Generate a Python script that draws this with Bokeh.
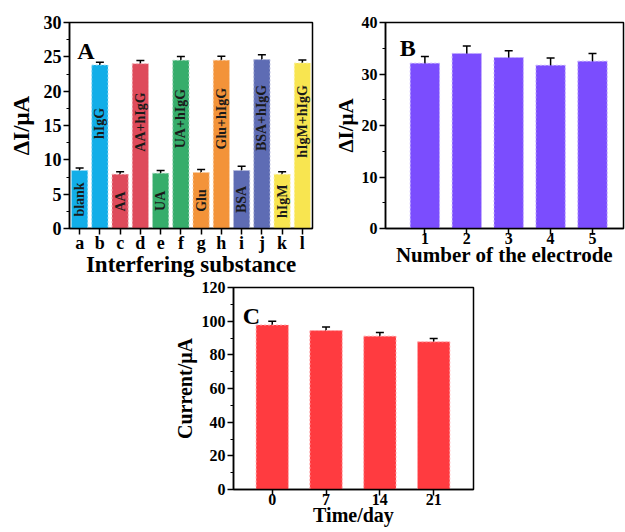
import numpy as np
from bokeh.plotting import figure
from bokeh.models import (ColumnDataSource, Range1d, FixedTicker, SingleIntervalTicker,
                          Whisker, TeeHead, Label, Spacer)
from bokeh.layouts import column, row
from bokeh.embed import file_html
from bokeh.resources import INLINE
from bokeh.core.properties import value

# ---------------- data ----------------
a_categories = ["a", "b", "c", "d", "e", "f", "g", "h", "i", "j", "k", "l"]
a_labels = ["blank", "hIgG", "AA", "AA+hIgG", "UA", "UA+hIgG", "Glu", "Glu+hIgG",
            "BSA", "BSA+hIgG", "hIgM", "hIgM+hIgG"]
a_values = [8.45, 23.8, 7.9, 24.0, 8.05, 24.5, 8.15, 24.5, 8.45, 24.6, 7.9, 24.1]
a_errors = [0.35, 0.4, 0.35, 0.45, 0.4, 0.55, 0.45, 0.6, 0.6, 0.7, 0.35, 0.45]
a_colors = ["#12AEE8", "#12AEE8", "#DE4B5B", "#DE4B5B", "#36AD6B", "#36AD6B",
            "#F39339", "#F39339", "#5E6CB4", "#5E6CB4", "#F8E550", "#F8E550"]

b_categories = ["1", "2", "3", "4", "5"]
b_values = [32.1, 34.0, 33.2, 31.7, 32.5]
b_errors = [1.3, 1.45, 1.3, 1.4, 1.5]
b_color = "#7B4DFE"

c_categories = ["0", "7", "14", "21"]
c_values = [97.7, 94.4, 91.1, 87.7]
c_errors = [2.2, 2.2, 2.1, 2.0]
c_color = "#FF3B40"

FONT = "Liberation Serif"


def lighten(hexcol, f=0.55):
    h = hexcol.lstrip("#")
    r, g, b = (int(h[i:i + 2], 16) for i in (0, 2, 4))
    r, g, b = (int(c + (255 - c) * f) for c in (r, g, b))
    return "#%02x%02x%02x" % (r, g, b)


def style(p, tick_size, label_size, ylabel_standoff):
    p.xgrid.visible = False
    p.ygrid.visible = False
    p.outline_line_color = "black"
    p.outline_line_width = 1.5
    p.background_fill_color = "white"
    p.border_fill_color = "white"
    for ax in (p.xaxis, p.yaxis):
        ax.axis_line_width = 1.5
        ax.axis_line_color = "black"
        ax.major_tick_line_width = 1.5
        ax.major_tick_line_color = "black"
        ax.minor_tick_line_width = 1.2
        ax.minor_tick_line_color = "black"
        ax.major_tick_in = 0
        ax.major_tick_out = 6
        ax.minor_tick_in = 0
        ax.minor_tick_out = 3
        ax.major_label_text_font = FONT
        ax.major_label_text_font_style = "bold"
        ax.major_label_text_font_size = tick_size
        ax.major_label_text_color = "black"
        ax.axis_label_text_font = FONT
        ax.axis_label_text_font_style = "bold"
        ax.axis_label_text_font_size = label_size
        ax.axis_label_text_color = "black"
    p.xaxis.major_label_standoff = -2
    p.xaxis.axis_label_standoff = -4
    p.yaxis.major_label_standoff = 2
    p.yaxis.axis_label_standoff = ylabel_standoff


def add_whisker(p, src):
    w = Whisker(source=src, base="x", upper="upper", lower="lower",
                line_color="black", line_width=1.5,
                upper_head=TeeHead(size=8, line_color="black", line_width=1.5),
                lower_head=TeeHead(size=8, line_color="black", line_width=1.5))
    p.add_layout(w)


# ---------------- panel A ----------------
xa = np.arange(1, len(a_categories) + 1)
va = np.array(a_values)
ea = np.array(a_errors)
src_a = ColumnDataSource(dict(
    x=xa, top=va, upper=va + ea, lower=va - ea, color=a_colors,
    line=[lighten(c) for c in a_colors], label=a_labels,
    ty=np.where(va > 15, va - 8.5, va / 2.0)))

pa = figure(width=330, height=280, output_backend="svg", toolbar_location=None,
            x_range=Range1d(0.5, len(a_categories) + 0.5), y_range=Range1d(0, 30),
            min_border_left=69, min_border_right=18, min_border_top=22, min_border_bottom=52)
pa.vbar(x="x", top="top", width=0.8, bottom=0, fill_color="color",
        line_color="line", line_dash="2 2", line_width=1, source=src_a)
add_whisker(pa, src_a)
pa.text(x="x", y="ty", text="label", angle=np.pi / 2, text_align="center",
        text_baseline="middle", text_font=value(FONT), text_font_style="bold",
        text_font_size="14px", text_color="#1a1a1a", source=src_a)
style(pa, "18px", "23px", 7)
pa.xaxis.ticker = FixedTicker(ticks=list(xa), minor_ticks=[])
pa.xaxis.major_label_overrides = {int(i): c for i, c in zip(xa, a_categories)}
pa.yaxis.ticker = SingleIntervalTicker(interval=5, num_minor_ticks=2)
pa.xaxis.axis_label = "Interfering substance"
pa.yaxis.axis_label = "ΔI/μA"
pa.add_layout(Label(x=0.88, y=27.7, text="A", text_font=FONT, text_font_style="bold",
                    text_font_size="24px", text_baseline="top", text_color="black"))

# ---------------- panel B ----------------
xb = np.arange(1, len(b_categories) + 1)
vb = np.array(b_values)
eb = np.array(b_errors)
src_b = ColumnDataSource(dict(x=xb, top=vb, upper=vb + eb, lower=vb - eb))
pb = figure(width=295, height=280, output_backend="svg", toolbar_location=None,
            x_range=Range1d(0.06, len(b_categories) + 0.74), y_range=Range1d(0, 40),
            min_border_left=46, min_border_right=2, min_border_top=22, min_border_bottom=52)
pb.vbar(x="x", top="top", width=0.7, bottom=0, fill_color=b_color,
        line_color=lighten(b_color), line_dash="2 2", line_width=1, source=src_b)
add_whisker(pb, src_b)
style(pb, "16px", "21px", 1)
pb.xaxis.ticker = FixedTicker(ticks=list(xb), minor_ticks=[])
pb.xaxis.major_label_overrides = {int(i): c for i, c in zip(xb, b_categories)}
pb.yaxis.ticker = SingleIntervalTicker(interval=10, num_minor_ticks=2)
pb.xaxis.axis_label = "Number of the electrode"
pb.yaxis.axis_label = "ΔI/μA"
pb.add_layout(Label(x=0.40, y=37.5, text="B", text_font=FONT, text_font_style="bold",
                    text_font_size="24px", text_baseline="top", text_color="black"))

# ---------------- panel C ----------------
xc = np.arange(1, len(c_categories) + 1)
vc = np.array(c_values)
ec = np.array(c_errors)
src_c = ColumnDataSource(dict(x=xc, top=vc, upper=vc + ec, lower=vc - ec))
pc = figure(width=313, height=252, output_backend="svg", toolbar_location=None,
            x_range=Range1d(0.28, len(c_categories) + 0.74), y_range=Range1d(0, 120),
            min_border_left=62, min_border_right=10, min_border_top=7, min_border_bottom=43)
pc.vbar(x="x", top="top", width=0.6, bottom=0, fill_color=c_color,
        line_color=lighten(c_color), line_dash="2 2", line_width=1, source=src_c)
add_whisker(pc, src_c)
style(pc, "16px", "20px", 3)
pc.xaxis.ticker = FixedTicker(ticks=list(xc), minor_ticks=[])
pc.xaxis.major_label_overrides = {int(i): c for i, c in zip(xc, c_categories)}
pc.yaxis.ticker = SingleIntervalTicker(interval=20, num_minor_ticks=2)
pc.xaxis.axis_label = "Time/day"
pc.yaxis.axis_label = "Current/μA"
pc.add_layout(Label(x=0.45, y=111, text="C", text_font=FONT, text_font_style="bold",
                    text_font_size="24px", text_baseline="top", text_color="black"))

layout = column(row(pa, pb), row(Spacer(width=170, height=252), pc))

open("out.html", "w").write(file_html(layout, INLINE))
